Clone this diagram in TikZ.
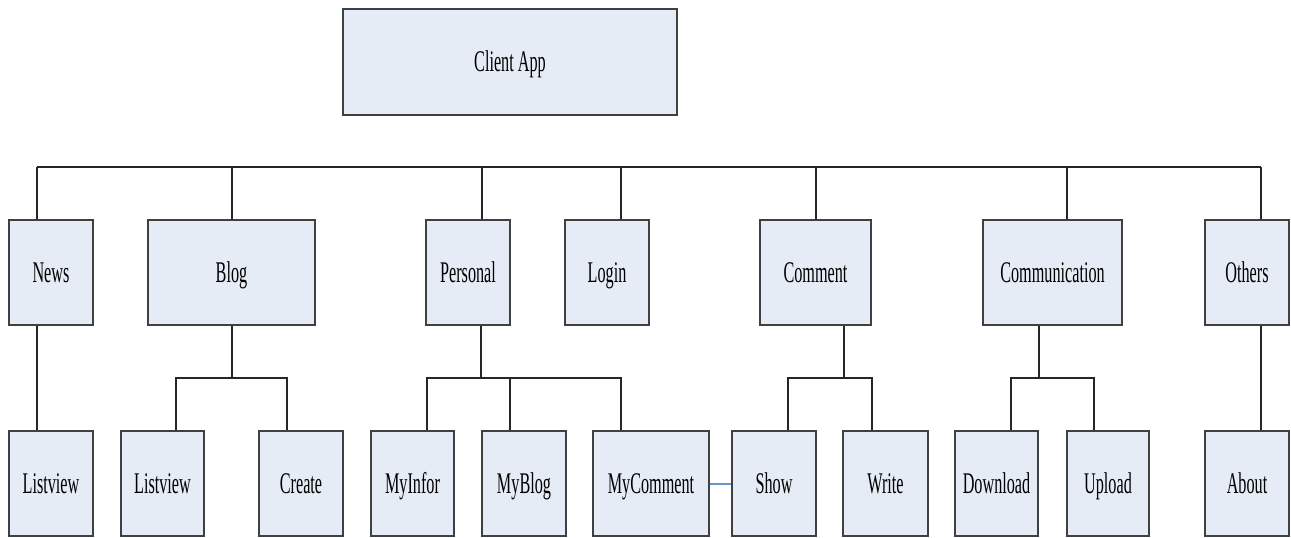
\documentclass[tikz,border=0pt]{standalone}
\usepackage{fontspec}
\setmainfont{Liberation Serif}[FakeStretch=0.54]
\usepackage{tikz}

\definecolor{boxfill}{RGB}{230,236,246}
\definecolor{boxline}{RGB}{64,64,64}
\definecolor{linkblue}{RGB}{101,150,212}

\begin{document}
\begin{tikzpicture}[x=0.5pt,y=-0.5pt,
  module/.style={draw=boxline,fill=boxfill,line width=0.7pt,inner sep=0pt,
    minimum width=#1,minimum height=52.5pt,text height=9.5pt,text depth=0pt,
    font=\fontsize{15}{18}\selectfont},
  module/.default=42pt,
  wire/.style={draw=black!85,line width=0.6pt}]
\useasboundingbox (0,0) rectangle (1291,537);

\node[module=167pt,minimum height=53pt] (app) at (510,62) {Client App};

% first level
\node[module] (news) at (51,272.5) {News};
\node[module=83.5pt] (blog) at (231.5,272.5) {Blog};
\node[module] (personal) at (468,272.5) {Personal};
\node[module] (login) at (607,272.5) {Login};
\node[module=55.5pt] (comment) at (815.5,272.5) {Comment};
\node[module=69.5pt] (communication) at (1052.5,272.5) {Communication};
\node[module] (others) at (1247,272.5) {Others};

% second level
\node[module] (newslist) at (51,483.5) {Listview};
\node[module=41.5pt] (bloglist) at (162.5,483.5) {Listview};
\node[module] (create) at (301,483.5) {Create};
\node[module=41.5pt] (myinfor) at (412.5,483.5) {MyInfor};
\node[module] (myblog) at (524,483.5) {MyBlog};
\node[module=58pt] (mycomment) at (651,483.5) {MyComment};
\node[module] (show) at (774,483.5) {Show};
\node[module=42.5pt] (write) at (885.5,483.5) {Write};
\node[module=41.5pt] (download) at (996.5,483.5) {Download};
\node[module=41pt] (upload) at (1108,483.5) {Upload};
\node[module] (about) at (1247,483.5) {About};

\coordinate (bus) at (0,167);
\coordinate (mid) at (0,378);

% taps on the main bus
\foreach \n/\dx in {news/-7pt,blog/0.25pt,personal/7pt,login/7pt,comment/0.25pt,communication/7.25pt,others/7pt}
  \draw[wire] ([xshift=\dx]\n.north) coordinate (tap-\n) -- (tap-\n |- bus);
\draw[wire] (tap-news |- bus) -- (tap-others |- bus);

% straight drops
\draw[wire] ([xshift=-7pt]news.south) -- ([xshift=-7pt]newslist.north);
\draw[wire] ([xshift=7pt]others.south) -- ([xshift=7pt]about.north);

% blog
\draw[wire] ([xshift=0.25pt]blog.south) coordinate (lj) -- (lj |- mid);
\draw[wire] ([xshift=6.75pt]bloglist.north) |- (lj |- mid) -| ([xshift=-7pt]create.north);

% personal
\draw[wire] ([xshift=6.5pt]personal.south) coordinate (pj) -- (pj |- mid);
\draw[wire] ([xshift=7.25pt]myinfor.north) |- (pj |- mid) -| ([xshift=-15pt]mycomment.north);
\draw[wire] ([xshift=-7pt]myblog.north) coordinate (bj) -- (bj |- mid);

% comment
\draw[wire] ([xshift=14.25pt]comment.south) coordinate (cj) -- (cj |- mid);
\draw[wire] ([xshift=7pt]show.north) |- (cj |- mid) -| ([xshift=-6.75pt]write.north);

% communication
\draw[wire] ([xshift=-6.75pt]communication.south) coordinate (mj) -- (mj |- mid);
\draw[wire] ([xshift=7.25pt]download.north) |- (mj |- mid) -| ([xshift=-7pt]upload.north);

\draw[linkblue,line width=0.8pt] ([yshift=-0.25pt]mycomment.east) -- ([yshift=-0.25pt]show.west);
\end{tikzpicture}
\end{document}
